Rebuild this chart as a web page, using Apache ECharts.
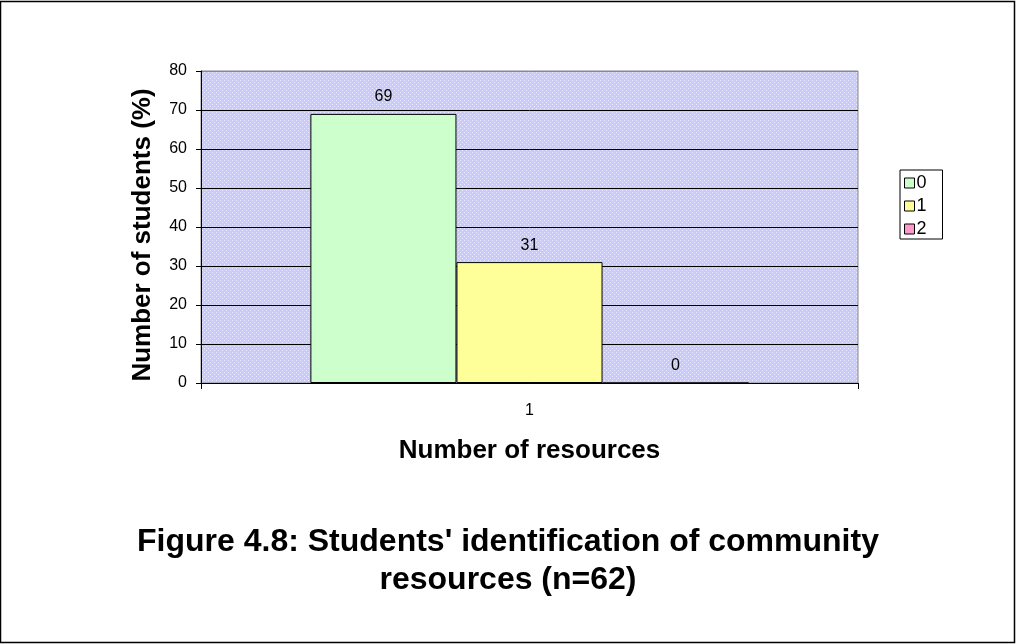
<!DOCTYPE html>
<html>
<head>
<meta charset="utf-8">
<script src="https://cdn.jsdelivr.net/npm/echarts@6/dist/echarts.min.js"></script>
<style>
  html, body { margin: 0; padding: 0; background: #fff; }
  #chart { width: 1016px; height: 644px; }
</style>
</head>
<body>
<div id="chart"></div>
<script>
// Chart data
const categories = ['1'];
const seriesNames = ['0', '1', '2'];
const values0 = [69];
const values1 = [31];
const values2 = [0];
const yTicks = [0, 10, 20, 30, 40, 50, 60, 70, 80];

const seriesValues = [values0, values1, values2];
const seriesColors = ['#ccffcc', '#ffff99', '#ff99cc'];

// Dotted lavender fill for the plot area
const tile = document.createElement('canvas');
tile.width = 4; tile.height = 4;
const tctx = tile.getContext('2d');
tctx.fillStyle = '#c9c9fb';
tctx.fillRect(0, 0, 4, 4);
tctx.fillStyle = '#ececff';
tctx.fillRect(0, 0, 1, 1);
tctx.fillRect(2, 2, 1, 1);

const font = 'Liberation Sans, Arial, sans-serif';
const chart = echarts.init(document.getElementById('chart'), null, { renderer: 'canvas' });

// Gridline colours: black inside, grey along the top edge
const splitColors = yTicks.map((v, i) => (i === yTicks.length - 1 ? '#888888' : '#000000'));

chart.setOption({
  animation: false,
  backgroundColor: '#ffffff',
  textStyle: { fontFamily: font },
  title: {
    text: "Figure 4.8: Students' identification of community\nresources (n=62)",
    left: 503,
    textAlign: 'center',
    top: 518,
    textStyle: { fontFamily: font, fontSize: 32, fontWeight: 'bold', color: '#000', lineHeight: 38 }
  },
  legend: {
    orient: 'vertical',
    left: 900,
    top: 170,
    padding: [4, 16, 1, 4],
    borderColor: '#000',
    borderWidth: 1,
    itemWidth: 10,
    itemHeight: 10,
    itemGap: 5,
    icon: 'rect',
    data: seriesNames,
    textStyle: { fontFamily: font, fontSize: 18, color: '#000', padding: [0, 0, 0, -3] },
    itemStyle: { borderColor: '#000', borderWidth: 1 }
  },
  grid: {
    left: 201, right: 158, top: 71, bottom: 261,
    show: true,
    backgroundColor: { image: tile, repeat: 'repeat' },
    borderColor: '#888888',
    borderWidth: 1
  },
  xAxis: {
    type: 'category',
    data: categories,
    name: 'Number of resources',
    nameLocation: 'middle',
    nameGap: 55,
    nameTextStyle: { fontFamily: font, fontSize: 26, fontWeight: 'bold', color: '#000' },
    axisLine: { lineStyle: { color: '#000', width: 1 } },
    axisTick: { show: true, length: 6, lineStyle: { color: '#000' } },
    axisLabel: { fontFamily: font, fontSize: 16, color: '#000', margin: 20 }
  },
  yAxis: {
    type: 'value',
    min: 0, max: 80, interval: 10,
    name: 'Number of students (%)',
    nameLocation: 'middle',
    nameGap: 45,
    nameTextStyle: { fontFamily: font, fontSize: 26, fontWeight: 'bold', color: '#000', padding: [0, 16, 0, 0] },
    axisLine: { show: true, lineStyle: { color: '#000', width: 1 } },
    axisTick: { show: true, length: 5, lineStyle: { color: '#000' } },
    axisLabel: { fontFamily: font, fontSize: 16, color: '#000', margin: 14 },
    splitLine: { show: true, lineStyle: { color: splitColors, width: 1 } }
  },
  series: seriesNames.map((name, i) => ({
    name: name,
    type: 'bar',
    data: seriesValues[i],
    barGap: '0%',
    barCategoryGap: '33.3%',
    itemStyle: { color: seriesColors[i], borderColor: '#000', borderWidth: 1 },
    label: {
      show: true,
      position: 'top',
      distance: 9,
      fontFamily: font,
      fontSize: 16,
      color: '#000'
    }
  })),
  graphic: [{
    type: 'rect',
    shape: { x: 0.5, y: 1.5, width: 1014, height: 641 },
    style: { fill: null, stroke: '#000', lineWidth: 1.5 },
    silent: true
  }]
});
</script>
</body>
</html>
